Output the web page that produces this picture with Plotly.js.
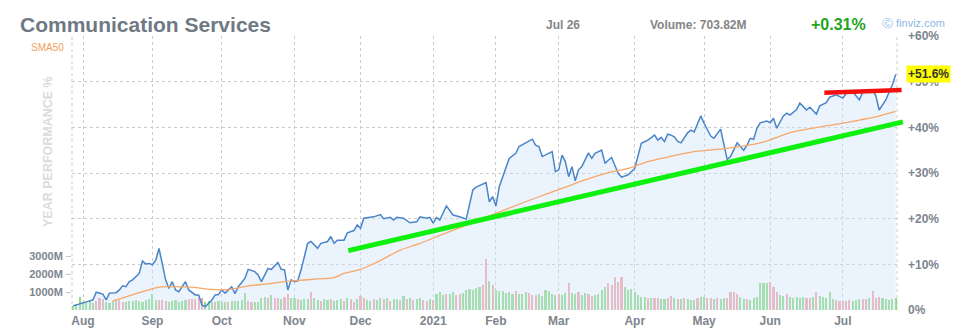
<!DOCTYPE html>
<html>
<head>
<meta charset="utf-8">
<script src="https://cdn.plot.ly/plotly-3.0.1.min.js"></script>
<style>html,body{margin:0;padding:0;background:#fff;}#chart{width:970px;height:330px;}</style>
</head>
<body>
<div id="chart"></div>
<script>
// ---- Data (x = trading-day index, Jul 2020 .. Jul 26 2021) ----
const monthDay   = [5, 26, 47, 69, 89, 111, 130, 149, 172, 193, 213, 235];
const monthLabel = ['Aug','Sep','Oct','Nov','Dec','2021','Feb','Mar','Apr','May','Jun','Jul'];

const perfDay = [2,4,8,9,11,12,13,15,16,17,18,19,20,22,23,24,25,26,27,28,29,30,31,32,33,34,36,37,39,40,41,42,44,45,46,47,48,50,51,52,54,55,57,58,59,61,62,64,65,66,67,68,69,70,71,73,74,76,77,79,80,81,82,84,85,87,88,89,90,92,93,95,96,98,99,100,102,104,106,107,109,110,111,112,113,115,117,119,121,123,124,127,128,129,130,131,133,134,136,137,139,141,142,143,144,146,147,148,149,150,151,152,153,154,155,156,158,159,160,162,163,164,165,167,168,170,172,174,176,178,179,180,181,182,183,184,185,186,188,189,190,192,193,195,196,198,199,200,201,203,204,205,206,207,208,209,210,212,213,214,215,217,218,219,221,222,224,225,227,228,230,231,233,235,236,237,238,240,241,243,244,245,246,248,249,250,251];
const perfPct = [0.9,1.3,2.2,3.9,3.5,2.2,3.7,3.8,4.4,5.3,5.1,6.2,6.6,8.0,10.7,10.1,10.2,9.9,10.9,13.5,9.9,6.6,4.7,6.2,4.4,4.0,6.2,4.4,3.3,3.3,1.1,0.7,2.2,3.3,3.4,4.4,3.7,5.1,3.6,5.1,6.9,8.9,8.4,7.7,6.2,9.1,8.9,10.4,8.9,8.8,4.4,6.6,6.2,6.4,8.8,14.6,15.0,13.5,14.6,15.0,16.1,14.6,15.3,15.3,16.9,17.4,18.6,17.9,20.1,20.4,20.4,20.9,20.0,20.3,19.7,20.3,20.1,19.1,19.3,20.4,20.1,20.3,19.0,20.3,19.7,22.8,20.8,20.4,19.9,26.3,26.9,27.9,23.7,24.8,22.8,27.0,31.0,33.2,34.3,35.8,36.6,37.4,36.1,35.8,33.6,34.3,34.7,30.3,30.7,33.9,32.5,29.2,31.4,28.3,30.7,31.4,34.4,33.2,34.3,35.0,32.1,32.8,33.4,29.9,29.1,29.6,31.0,36.5,37.2,38.3,37.2,37.8,36.9,38.5,38.3,37.9,36.9,36.6,38.8,39.4,39.0,42.5,40.9,38.1,37.6,39.6,36.1,33.0,33.6,36.6,35.8,35.0,36.1,37.6,37.4,39.8,41.0,41.4,41.0,42.0,39.8,42.5,43.1,42.7,43.9,45.3,43.8,44.4,42.9,44.7,45.4,46.6,47.1,46.4,47.4,48.0,47.8,46.0,47.6,48.0,48.2,46.9,43.8,46.0,47.6,49.3,51.6];

const smaDay = [14,18,23,28,31,38,44,49,55,61,66,69,76,81,84,89,94,98,101,107,115,125,135,143,151,157,164,170,176,182,190,200,210,220,230,235,240,245,251];
const smaPct = [2.0,2.9,4.0,5.0,5.1,5.0,4.5,4.5,5.3,5.7,6.2,6.4,6.8,7.1,8.0,8.9,10.5,12.0,13.1,14.6,16.9,19.7,22.6,24.8,26.9,28.5,30.1,31.0,32.5,33.5,34.7,35.4,36.6,39.0,40.3,40.9,41.6,42.3,43.5];

// daily volume (millions), first bar = day 2
const volM = [
  250,350,750,450,400,480,420,520,660,620,
  470,420,500,560,560,430,470,520,480,560,
  500,470,540,600,880,560,560,590,500,470,
  520,560,470,500,560,640,600,620,660,660,
  470,500,440,470,500,450,470,430,520,480,
  520,560,930,500,470,440,470,700,750,660,
  820,700,660,620,750,880,700,660,600,540,
  600,620,1030,660,560,520,600,560,620,520,
  560,600,520,700,640,450,620,760,700,560,
  520,620,560,660,600,700,520,640,600,560,
  800,620,660,560,600,700,560,520,640,580,
  900,1000,850,920,880,1000,820,880,940,1150,
  1200,1100,1230,1300,1400,2850,1650,1400,1100,1050,
  1050,960,1000,900,1050,920,880,1030,960,860,
  830,900,800,1150,1050,920,860,900,820,960,
  1540,940,900,1000,860,960,900,800,860,920,
  1150,1300,1500,1400,1870,1600,1870,1300,1100,1200,
  1000,860,750,750,700,660,660,700,640,620,
  700,800,700,640,600,660,620,560,560,660,
  720,720,700,700,600,700,620,660,700,1000,
  1030,900,720,640,600,560,700,720,1500,1500,
  1500,1560,1300,1000,840,760,880,750,700,750,
  700,720,660,700,750,1000,760,720,700,1000,
  640,560,530,520,480,560,520,560,640,640,
  600,650,1070,700,720,650,600,560,640,700
];
const volDir = (
  'gggggggrrr' + 'gggrrrgggg' + 'ggggggrrrg' + 'gggggrrrrr' + 'gggrgggrgg' +
  'gggrrggggr' + 'grrgrrggrg' + 'ggrggrggrg' + 'ggrgrrgrrg' + 'grggrgrggr' +
  'grgrggrrgr' + 'gggrggrrgg' + 'ggggrrgrgg' + 'ggggrgggrr' + 'rggggggrgg' +
  'rggrggrrgg' + 'ggrrrrrggg' + 'ggggrgrrgg' + 'rrgrgrgggr' + 'ggrrgrggrr' +
  'rrggrggggg' + 'grrrggrggg' + 'ggrrgrgggg' + 'grrrrrgggr' + 'rgrrrggggg'
).split('');

const volTicks = [1000, 2000, 3000];
const volTickText = ['1000M', '2000M', '3000M'];
const pctTicks = [0, 10, 20, 30, 40, 50, 60];
const pctTickText = ['0%', '+10%', '+20%', '+30%', '+40%', '+50%', '+60%'];

const lastPerf = '+51.6%';
const trendGreen = {d0: 85.3, p0: 13.0, d1: 253.2, p1: 41.2};
const trendRed   = {d0: 229.4, p0: 47.6, d1: 252.8, p1: 48.2};

// ---- Layout helpers ----
const W = 970, H = 330, L = 72, R = 897, T = 36, B = 310;
const XR = [1.66, 251.4], PR = [0, 60], VR = [0, 15400];
const pxX = px => (px - L) / (R - L);
const pxY = py => (B - py) / (B - T);
const dX = d => (d - XR[0]) / (XR[1] - XR[0]);
const pY = p => (p - PR[0]) / (PR[1] - PR[0]);
const FONT = 'Arial, "Liberation Sans", sans-serif';
const GRAY = '#7d858e';

const volDay = volM.map((_, i) => i + 2);

const traces = [
  {
    type: 'bar', x: volDay, y: volM, yaxis: 'y', xaxis: 'x',
    marker: {color: volDir.map(c => c === 'g' ? '#8ddc82' : '#f4a5a5'), line: {width: 0}},
    width: 0.64, hoverinfo: 'skip', showlegend: false
  },
  {
    type: 'scatter', mode: 'lines', x: perfDay, y: perfPct, yaxis: 'y2',
    line: {color: '#4a84c9', width: 1.5}, fill: 'tozeroy',
    fillcolor: 'rgba(205,226,248,0.40)', showlegend: false
  },
  {
    type: 'scatter', mode: 'lines', x: smaDay, y: smaPct, yaxis: 'y2',
    line: {color: '#f6a86a', width: 1.3, shape: 'spline'}, showlegend: false
  }
];

const layout = {
  width: W, height: H,
  margin: {l: L, r: W - R, t: T, b: H - B, pad: 0},
  paper_bgcolor: '#ffffff', plot_bgcolor: '#ffffff',
  showlegend: false,
  bargap: 0,
  font: {family: FONT},
  title: {
    text: '<b>Communication Services</b>',
    x: 20 / W, xanchor: 'left', xref: 'container',
    y: 1 - 25 / H, yanchor: 'middle', yref: 'container',
    font: {size: 21, color: '#6f7983', family: FONT}
  },
  xaxis: {
    range: XR, tickvals: monthDay, ticktext: monthLabel,
    showgrid: true, gridcolor: '#cbcbcb', griddash: '3px,3px', gridwidth: 1,
    zeroline: false, showline: false, ticks: '',
    tickfont: {size: 12, color: GRAY, family: FONT, weight: 'bold'},
    ticklabelstandoff: 2, fixedrange: true
  },
  yaxis: {
    side: 'left', range: VR, tickvals: volTicks, ticktext: volTickText,
    showgrid: false, zeroline: false, showline: false,
    ticks: 'outside', ticklen: 5, tickcolor: '#c4c4c4', tickwidth: 1,
    tickfont: {size: 11, color: GRAY, family: FONT, weight: 'bold'},
    ticklabelstandoff: 1
  },
  yaxis2: {
    side: 'right', overlaying: 'y', range: PR, tickvals: pctTicks, ticktext: pctTickText,
    showgrid: true, gridcolor: '#cbcbcb', griddash: '3px,3px', gridwidth: 1,
    zeroline: false, showline: false, ticks: '',
    tickfont: {size: 12, color: GRAY, family: FONT, weight: 'bold'},
    ticklabelstandoff: 10
  },
  shapes: [
    {type: 'line', xref: 'paper', yref: 'paper', x0: 0, x1: 0, y0: 0, y1: 1,
     line: {color: '#cbcbcb', width: 1, dash: '3px,3px'}, layer: 'below'},
    {type: 'line', xref: 'paper', yref: 'paper', x0: 1, x1: 1, y0: 0, y1: 1,
     line: {color: '#cbcbcb', width: 1, dash: '3px,3px'}, layer: 'below'},
    {type: 'line', xref: 'paper', yref: 'paper',
     x0: dX(trendGreen.d0), y0: pY(trendGreen.p0), x1: dX(trendGreen.d1), y1: pY(trendGreen.p1),
     line: {color: '#0ef00e', width: 5}, layer: 'above'},
    {type: 'line', xref: 'paper', yref: 'paper',
     x0: dX(trendRed.d0), y0: pY(trendRed.p0), x1: dX(trendRed.d1), y1: pY(trendRed.p1),
     line: {color: '#f51010', width: 4.5}, layer: 'above'}
  ],
  annotations: [
    {text: 'SMA50', xref: 'paper', yref: 'paper', x: pxX(29), y: pxY(47.5),
     xanchor: 'left', yanchor: 'middle', showarrow: false,
     font: {size: 10, color: '#f3a060', family: FONT}},
    {text: '<b>Jul 26</b>', xref: 'paper', yref: 'paper', x: pxX(563), y: pxY(25),
     xanchor: 'center', yanchor: 'middle', showarrow: false,
     font: {size: 12, color: '#858585', family: FONT}},
    {text: '<b>Volume: 703.82M</b>', xref: 'paper', yref: 'paper', x: pxX(648), y: pxY(25),
     xanchor: 'left', yanchor: 'middle', showarrow: false,
     font: {size: 12, color: '#858585', family: FONT}},
    {text: '<b>+0.31%</b>', xref: 'paper', yref: 'paper', x: pxX(809), y: pxY(24),
     xanchor: 'left', yanchor: 'middle', showarrow: false,
     font: {size: 16, color: '#22a322', family: FONT}},
    {text: '\u24B8 finviz.com', xref: 'paper', yref: 'paper', x: pxX(880), y: pxY(23),
     xanchor: 'left', yanchor: 'middle', showarrow: false,
     font: {size: 11, color: '#8cb8e6', family: FONT}},
    {text: '<b>YEAR PERFORMANCE %</b>', xref: 'paper', yref: 'paper', x: pxX(48), y: pxY(152),
     xanchor: 'center', yanchor: 'middle', showarrow: false, textangle: -90,
     font: {size: 12.5, color: '#dcdcdc', family: FONT}},
    {text: '<b>' + lastPerf + '</b>', xref: 'paper', yref: 'y2', x: pxX(906), y: perfPct[perfPct.length - 1],
     xanchor: 'left', yanchor: 'middle', showarrow: false, bgcolor: '#ffff00', borderpad: 1,
     font: {size: 12, color: '#333333', family: FONT}}
  ]
};

Plotly.newPlot('chart', traces, layout, {staticPlot: true, displayModeBar: false});
</script>
</body>
</html>
